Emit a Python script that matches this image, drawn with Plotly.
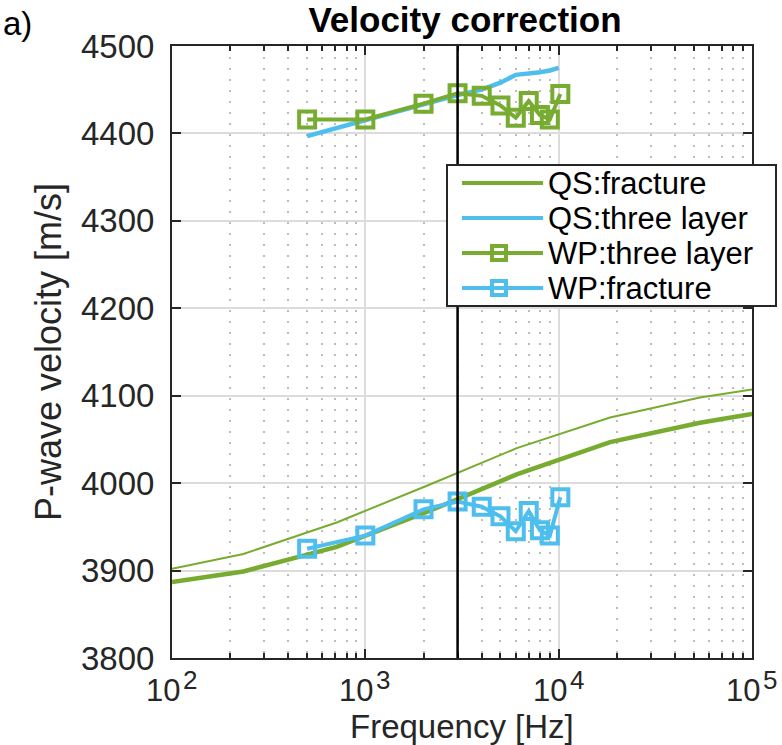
import math
import plotly.graph_objects as go

# ---- data ----
freq_qs_frac = [100, 234, 711, 2080, 6070, 18450, 53800, 100000]
vp_qs_frac = [3887, 3899, 3927, 3967, 4010, 4047, 4069, 4079]

freq_qs_thin = [100, 234, 711, 2080, 6070, 18450, 53800, 100000]
vp_qs_thin = [3902, 3919, 3955, 3997, 4040, 4075, 4098, 4107]

freq_qs_three = [500, 1000, 2000, 3000, 4000, 5000, 6000, 7000, 8000, 9000, 10000]
vp_qs_three = [4397, 4415, 4434, 4444, 4450, 4458, 4467, 4468, 4470, 4472, 4475]

freq_wp = [500, 1000, 2000, 3000, 4000, 5000, 6000, 7000, 8000, 9000, 10200]
vp_wp_three = [4416, 4416, 4434, 4446, 4443, 4432, 4418, 4437, 4421, 4416, 4445]
vp_wp_frac = [3925, 3940, 3970, 3979, 3973, 3962, 3945, 3968, 3946, 3940, 3984]

x_tickvals = [100, 1000, 10000, 100000]
x_tickbase = ["10", "10", "10", "10"]
x_tickexp = ["2", "3", "4", "5"]

legend_names = ["QS:fracture", "QS:three layer", "WP:three layer", "WP:fracture"]

f_cut = 3000

GREEN = "#77AC30"
BLUE = "#4DBEEE"
legend_colors = [GREEN, BLUE, GREEN, BLUE]
legend_markers = [False, False, True, True]

FONT = "Liberation Sans, Arial, sans-serif"
AX = "#262626"

# plot-area geometry in pixels (for legend box / label placement)
W, H = 782, 745
L, R, T, B = 172, 30, 46, 87
PW, PH = W - L - R, H - T - B


def px(xp):
    return (xp - L) / PW


def py(yp):
    return (H - B - yp) / PH


def mid(baseline, size):
    # vertical centre of a text box (Liberation Sans metrics) for a given baseline
    return baseline - 0.3465 * size


fig = go.Figure()

fig.add_trace(go.Scatter(x=freq_qs_thin, y=vp_qs_thin, mode="lines",
                         line=dict(color=GREEN, width=2), showlegend=False,
                         hoverinfo="skip"))
fig.add_trace(go.Scatter(x=freq_qs_frac, y=vp_qs_frac, mode="lines",
                         name=legend_names[0], line=dict(color=GREEN, width=4.5)))
fig.add_trace(go.Scatter(x=freq_qs_three, y=vp_qs_three, mode="lines",
                         name=legend_names[1], line=dict(color=BLUE, width=4.5)))
fig.add_trace(go.Scatter(x=freq_wp, y=vp_wp_three, mode="lines+markers",
                         name=legend_names[2], line=dict(color=GREEN, width=4),
                         marker=dict(symbol="square-open", size=16, color=GREEN,
                                     line=dict(width=4, color=GREEN))))
fig.add_trace(go.Scatter(x=freq_wp, y=vp_wp_frac, mode="lines+markers",
                         name=legend_names[3], line=dict(color=BLUE, width=4),
                         marker=dict(symbol="square-open", size=16, color=BLUE,
                                     line=dict(width=4, color=BLUE))))

fig.add_shape(type="line", xref="x", yref="paper", x0=f_cut, x1=f_cut, y0=0, y1=1,
              line=dict(color="black", width=2.5), layer="above")

# ---- legend box (drawn like the MATLAB one) ----
fig.add_shape(type="rect", xref="paper", yref="paper",
              x0=px(447), x1=px(776), y0=py(306), y1=py(165),
              line=dict(color=AX, width=2), fillcolor="white", layer="above")
LEG_SIZE = 31
row_y = [183, 218, 253, 288]
for name, col, mk, yy in zip(legend_names, legend_colors, legend_markers, row_y):
    fig.add_shape(type="line", xref="paper", yref="paper",
                  x0=px(462), x1=px(543), y0=py(yy), y1=py(yy),
                  line=dict(color=col, width=4), layer="above")
    if mk:
        fig.add_shape(type="rect", xref="paper", yref="paper",
                      x0=px(492), x1=px(506), y0=py(yy + 7), y1=py(yy - 7),
                      line=dict(color=col, width=4), fillcolor="rgba(0,0,0,0)",
                      layer="above")
    fig.add_annotation(text=name, xref="paper", yref="paper",
                       x=px(547), y=py(yy), xanchor="left", yanchor="middle",
                       showarrow=False, borderpad=0,
                       font=dict(family=FONT, size=LEG_SIZE, color="black"))

# ---- x tick labels: 10 with a large MATLAB-style exponent ----
# (annotation x on a log axis is given in log10 units)
BASE_SIZE, EXP_SIZE = 31, 26
for tv, tb, te in zip(x_tickvals, x_tickbase, x_tickexp):
    lx = math.log10(tv)
    fig.add_annotation(text=tb, xref="x", yref="paper", x=lx, y=py(mid(701, BASE_SIZE)),
                       xanchor="right", yanchor="middle", xshift=9, showarrow=False,
                       borderpad=0, font=dict(family=FONT, size=BASE_SIZE, color="#262626"))
    fig.add_annotation(text=te, xref="x", yref="paper", x=lx, y=py(mid(689, EXP_SIZE)),
                       xanchor="left", yanchor="middle", xshift=10, showarrow=False,
                       borderpad=0, font=dict(family=FONT, size=EXP_SIZE, color="#262626"))

# x-axis label
XL_SIZE = 33
fig.add_annotation(text="Frequency [Hz]", xref="paper", yref="paper",
                   x=0.5, y=py(mid(737.5, XL_SIZE)), xanchor="center", yanchor="middle",
                   showarrow=False, borderpad=0,
                   font=dict(family=FONT, size=XL_SIZE, color="#262626"))

fig.update_xaxes(type="log", range=[2, 5], dtick=1, showticklabels=False,
                 showline=True, linecolor=AX, linewidth=2, mirror="ticks",
                 ticks="inside", ticklen=9, tickwidth=2, tickcolor=AX,
                 showgrid=True, gridcolor="#DCDCDC", gridwidth=1.5,
                 minor=dict(dtick="D1", ticks="inside", ticklen=5, tickwidth=1.5,
                            tickcolor=AX, showgrid=True, gridcolor="#BDBDBD",
                            griddash="2px,9px", gridwidth=2),
                 automargin=False, zeroline=False)
fig.update_yaxes(range=[3800, 4500], dtick=100,
                 showline=True, linecolor=AX, linewidth=2, mirror="ticks",
                 ticks="inside", ticklen=9, tickwidth=2, tickcolor=AX,
                 showgrid=True, gridcolor="#DCDCDC", gridwidth=1.5,
                 ticklabelstandoff=9, automargin=False,
                 tickfont=dict(family=FONT, size=33, color="#262626"),
                 title=dict(text="P-wave velocity [m/s]", standoff=8,
                            font=dict(family=FONT, size=36, color="#262626")),
                 zeroline=False)

fig.update_layout(
    width=W, height=H, autosize=False,
    margin=dict(l=L, r=R, t=T, b=B, pad=0),
    plot_bgcolor="white", paper_bgcolor="white",
    title=dict(text="<b>Velocity correction</b>", x=465 / W, xanchor="center",
               y=0.973, yanchor="middle", yref="container",
               font=dict(family=FONT, size=35, color="black")),
    showlegend=False,
)

fig.add_annotation(text="a)", xref="paper", yref="paper",
                   x=px(1), y=py(24), xanchor="left", yanchor="middle",
                   showarrow=False, font=dict(family=FONT, size=33, color="black"))

fig.write_html("out.html")
